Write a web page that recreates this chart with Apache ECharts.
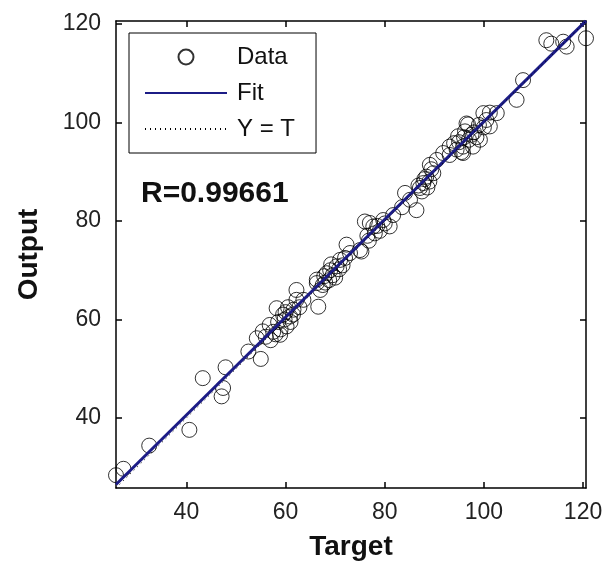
<!DOCTYPE html>
<html>
<head>
<meta charset="utf-8">
<title>Regression</title>
<script src="https://cdn.jsdelivr.net/npm/echarts@6/dist/echarts.min.js"></script>
<style>
  html, body { margin: 0; padding: 0; background: #fff; }
  #chart { width: 607px; height: 570px; }
</style>
</head>
<body>
<div id="chart"></div>
<script>
// target / output pairs
const dataPoints = [
  [25.8, 28.4], [27.3, 29.7], [32.5, 34.4], [40.6, 37.6], [43.3, 48.1], [47.9, 50.3],
  [47.4, 46.1], [47.1, 44.4], [52.5, 53.5], [55.0, 52.0], [54.2, 56.2], [55.4, 57.6],
  [56.8, 58.9], [58.2, 62.3], [58.9, 56.9], [60.2, 58.6], [60.9, 60.6], [61.6, 62.0],
  [59.5, 61.0], [62.2, 64.0], [63.6, 64.0], [62.2, 66.0], [66.6, 62.6], [66.3, 67.4],
  [56.0, 56.5], [57.5, 57.5], [58.5, 59.5], [59.0, 58.0], [60.0, 61.5], [61.0, 59.5],
  [57.0, 55.8], [58.0, 57.0], [59.8, 60.0], [61.5, 61.0], [60.5, 62.5], [62.8, 62.5],
  [66.3, 68.1], [68.3, 69.4], [70.3, 70.8], [71.0, 72.1], [67.0, 66.0], [67.5, 67.0],
  [68.0, 67.5], [68.8, 68.0], [69.0, 70.0], [69.5, 69.0], [70.0, 68.5], [70.8, 70.2],
  [71.5, 71.0], [67.8, 68.8], [69.2, 71.2], [72.3, 75.2], [75.3, 73.8], [72.0, 72.5],
  [73.0, 73.5], [75.0, 74.1], [76.0, 79.9], [77.7, 78.9], [79.7, 80.2], [81.7, 81.2],
  [81.0, 78.9], [77.0, 79.6], [76.5, 77.0], [78.0, 77.5], [78.5, 79.0], [79.0, 78.0],
  [80.0, 79.5], [76.8, 76.0], [84.1, 85.7], [85.1, 84.3], [86.4, 82.2], [83.5, 82.8],
  [87.8, 87.7], [88.4, 89.0], [87.1, 86.7], [89.8, 89.7], [89.1, 91.4], [88.0, 88.5],
  [86.8, 87.2], [89.0, 88.0], [88.6, 86.8], [87.5, 86.0], [90.5, 92.4], [89.4, 90.5],
  [93.1, 93.4], [96.8, 99.6], [99.9, 101.9], [94.8, 97.2], [93.1, 95.1], [91.8, 93.8],
  [95.8, 93.8], [97.8, 95.1], [101.2, 99.2], [99.2, 96.5], [96.5, 99.8], [95.8, 95.1],
  [94.5, 94.5], [95.0, 96.0], [96.0, 97.0], [97.0, 96.5], [98.0, 98.0], [97.5, 97.5],
  [94.0, 95.8], [95.5, 94.0], [98.5, 97.0], [99.0, 99.5], [100.5, 100.5], [101.2, 102.0],
  [102.6, 101.9], [100.0, 99.0], [96.2, 98.2], [106.6, 104.6], [107.9, 108.6],
  [112.6, 116.7], [113.6, 116.0], [116.7, 115.4], [116.0, 116.4], [120.6, 117.1]
];

const axisMin = 25.8;
const axisMax = 120.6;
const tickValues = [40, 60, 80, 100, 120];

// fit: output = slope * target + offset
const fitSlope = 0.993;
const fitOffset = 0.88;
const rText = "R=0.99661";

const fitLine = [
  [axisMin, fitSlope * axisMin + fitOffset],
  [axisMax, fitSlope * axisMax + fitOffset]
];
const identityLine = [[axisMin, axisMin], [axisMax, axisMax]];

const tickFont = "'Liberation Sans Narrow', 'Liberation Sans', Arial, sans-serif";
const boldFont = "'Liberation Sans', Arial, sans-serif";

const axisBase = {
  type: "value",
  min: axisMin,
  max: axisMax,
  splitLine: { show: false },
  axisLine: { show: true, lineStyle: { color: "#000", width: 1.5 } },
  axisTick: { show: true, inside: true, length: 6, customValues: tickValues,
    lineStyle: { color: "#000", width: 1.5 } }
};

const chart = echarts.init(document.getElementById("chart"));
chart.setOption({
  animation: false,
  backgroundColor: "#fff",
  grid: { left: 116, top: 21, width: 470, height: 467 },
  legend: {
    orient: "vertical",
    left: 129,
    top: 33,
    padding: [12, 21, 12, 15],
    itemWidth: 82,
    itemHeight: 15,
    itemGap: 12,
    borderColor: "#000",
    borderWidth: 1,
    backgroundColor: "#fff",
    textStyle: { fontFamily: boldFont, fontSize: 24, color: "#111", lineHeight: 24, padding: [0, 0, 0, 5] },
    data: [
      { name: "Data" },
      { name: "Fit", itemStyle: { opacity: 0 } },
      { name: "Y = T", itemStyle: { opacity: 0 } }
    ]
  },
  xAxis: [
    Object.assign({}, axisBase, {
      position: "bottom",
      name: "Target",
      nameLocation: "middle",
      nameGap: 45,
      nameTextStyle: { fontFamily: boldFont, fontSize: 28, fontWeight: "bold", color: "#111" },
      axisLabel: { customValues: tickValues, margin: 13, fontFamily: tickFont, fontSize: 23, color: "#222" }
    }),
    Object.assign({}, axisBase, { position: "top", axisLabel: { show: false } })
  ],
  yAxis: [
    Object.assign({}, axisBase, {
      position: "left",
      name: "Output",
      nameLocation: "middle",
      nameGap: 73,
      nameTextStyle: { fontFamily: boldFont, fontSize: 28, fontWeight: "bold", color: "#111" },
      axisLabel: { customValues: tickValues, margin: 15, fontFamily: tickFont, fontSize: 23, color: "#222" }
    }),
    Object.assign({}, axisBase, { position: "right", axisLabel: { show: false } })
  ],
  graphic: [{
    type: "text",
    left: 141,
    top: 179,
    style: { text: rText, font: "bold 30px " + boldFont, fill: "#111" }
  }],
  series: [
    {
      name: "Data",
      type: "scatter",
      data: dataPoints,
      symbol: "circle",
      symbolSize: 15,
      itemStyle: { color: "rgba(0,0,0,0)", borderColor: "#000", borderWidth: 1 }
    },
    {
      name: "Fit",
      type: "line",
      data: fitLine,
      symbol: "none",
      lineStyle: { color: "#1c1c86", width: 3 }
    },
    {
      name: "Y = T",
      type: "line",
      data: identityLine,
      symbol: "none",
      lineStyle: { color: "#000", width: 1, type: [1, 4] }
    }
  ]
});
</script>
</body>
</html>
